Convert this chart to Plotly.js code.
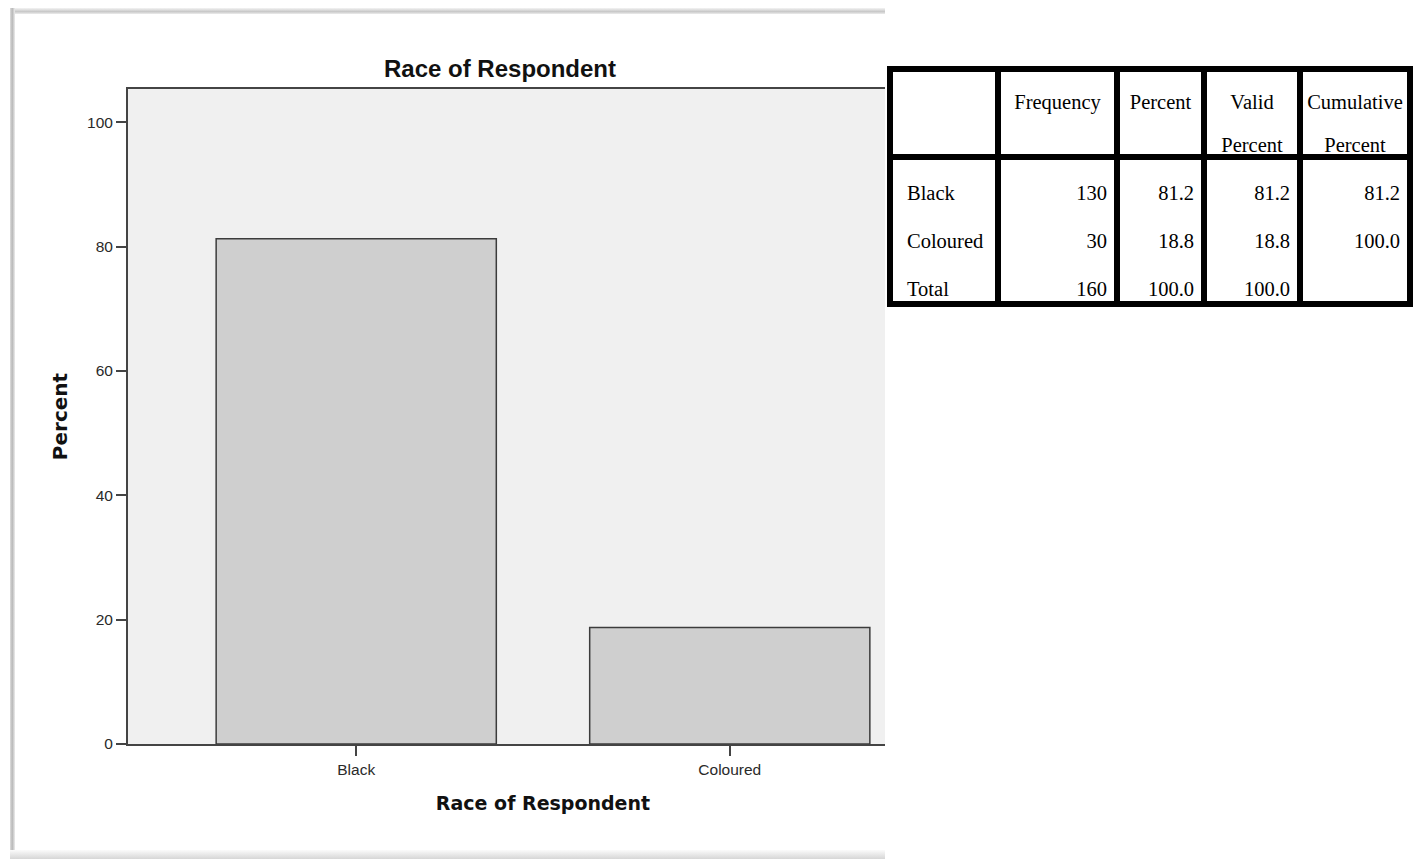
<!DOCTYPE html>
<html>
<head>
<meta charset="utf-8">
<script src="https://cdn.plot.ly/plotly-3.0.1.min.js"></script>
<style>
  html, body { margin:0; padding:0; background:#ffffff; }
  body { width:1413px; height:859px; position:relative; overflow:hidden; }
  #chart { position:absolute; left:0; top:0; width:1413px; height:859px; z-index:1; }
  .frame { position:absolute; z-index:0; }
  #crop { position:absolute; left:885px; top:0; width:528px; height:859px; background:#ffffff; z-index:2; }
  #table { position:absolute; left:0; top:0; z-index:3; font-family:"Liberation Serif","Times New Roman",serif; font-size:20.5px; color:#000; }
  .tl { position:absolute; background:#000; }
  .tt { position:absolute; white-space:nowrap; line-height:24px; height:24px; }
</style>
</head>
<body>
<div class="frame" style="left:10px;top:8px;width:875px;height:6px;background:linear-gradient(to bottom,#f4f4f4,#c8c8c8 60%,#ececec);"></div>
<div class="frame" style="left:10px;top:8px;width:5px;height:851px;background:linear-gradient(to right,#dedede,#b8b8b8 45%,#ececec);"></div>
<div class="frame" style="left:10px;top:850px;width:875px;height:9px;background:linear-gradient(to bottom,#fbfbfb,#d6d6d6);"></div>
<div id="chart"></div>
<div id="crop"></div>
<div id="table"></div>
<script>
// ---- chart data ----
const categories = ['Black', 'Coloured'];
const frequency = [130, 30];
const percent = [81.25, 18.75];
const yTicks = [0, 20, 40, 60, 80, 100];
const chartTitle = 'Race of Respondent';
const xTitle = 'Race of Respondent';
const yTitle = 'Percent';

// ---- table data ----
const tableHeaders = [['', ''], ['Frequency', ''], ['Percent', ''], ['Valid', 'Percent'], ['Cumulative', 'Percent']];
const rowLabels = ['Black', 'Coloured', 'Total'];
const freqCol = ['130', '30', '160'];
const percentCol = ['81.2', '18.8', '100.0'];
const validCol = ['81.2', '18.8', '100.0'];
const cumulativeCol = ['81.2', '100.0', ''];

// ---- chart ----
const trace = {
  type: 'bar',
  x: categories,
  y: percent,
  width: 0.75,
  marker: { color: '#cfcfcf', line: { color: '#3c3c3c', width: 1.5 } },
  hoverinfo: 'none'
};

const layout = {
  width: 1413,
  height: 859,
  margin: { l: 128, r: 455, t: 89, b: 114.5, pad: 0 },
  paper_bgcolor: 'rgba(0,0,0,0)',
  plot_bgcolor: '#f0f0f0',
  showlegend: false,
  bargap: 0.25,
  title: {
    text: chartTitle,
    x: 500 / 1413, xref: 'container', xanchor: 'center',
    y: 1 - 69 / 859, yref: 'container', yanchor: 'middle',
    font: { family: 'Liberation Sans, Arial, sans-serif', size: 24, weight: 'bold', color: '#111' }
  },
  xaxis: {
    type: 'category',
    range: [-0.611, 1.611],
    showline: true, linecolor: '#444', linewidth: 2, mirror: true,
    ticks: 'outside', ticklen: 10, tickwidth: 1.5, tickcolor: '#444',
    tickfont: { family: 'Liberation Sans, Arial, sans-serif', size: 15.5, color: '#2a2a2a' },
    showgrid: false, zeroline: false, fixedrange: true,
    title: {
      text: xTitle, standoff: 20,
      font: { family: 'DejaVu Sans, Verdana, sans-serif', size: 19, weight: 'bold', color: '#111' }
    }
  },
  yaxis: {
    range: [0, 105.35],
    tickvals: yTicks,
    ticktext: yTicks.map(String),
    showline: true, linecolor: '#444', linewidth: 2, mirror: false,
    ticks: 'outside', ticklen: 10, tickwidth: 2, tickcolor: '#444',
    tickfont: { family: 'Liberation Sans, Arial, sans-serif', size: 15.5, color: '#2a2a2a' },
    showgrid: false, zeroline: false, fixedrange: true,
    title: {
      text: yTitle, standoff: 14,
      font: { family: 'DejaVu Sans, Verdana, sans-serif', size: 20, weight: 'bold', color: '#111' }
    }
  }
};

Plotly.newPlot('chart', [trace], layout, { staticPlot: true, displayModeBar: false });

// ---- table (SPSS frequency table, cropped at the right edge) ----
const colLines = [890, 998, 1117, 1204, 1300, 1410];
const rowLines = [68.5, 157, 304];
const lineW = 6;
const tbl = document.getElementById('table');
function line(x, y, w, h) {
  const d = document.createElement('div');
  d.className = 'tl';
  d.style.left = x + 'px'; d.style.top = y + 'px';
  d.style.width = w + 'px'; d.style.height = h + 'px';
  tbl.appendChild(d);
}
const top0 = rowLines[0] - lineW / 2, bot0 = rowLines[rowLines.length - 1] + lineW / 2;
colLines.forEach(x => line(x - lineW / 2, top0, lineW, bot0 - top0));
rowLines.forEach(y => line(colLines[0] - lineW / 2, y - lineW / 2, colLines[colLines.length - 1] - colLines[0] + lineW, lineW));

function text(str, x0, x1, yc, align, pad) {
  const d = document.createElement('div');
  d.className = 'tt';
  d.textContent = str;
  d.style.top = (yc - 12) + 'px';
  d.style.left = x0 + 'px';
  d.style.width = (x1 - x0) + 'px';
  d.style.textAlign = align;
  d.style.boxSizing = 'border-box';
  if (align === 'right') d.style.paddingRight = pad + 'px';
  if (align === 'left') d.style.paddingLeft = pad + 'px';
  tbl.appendChild(d);
}
const headerY = [102, 145];
tableHeaders.forEach((h, c) => {
  const x0 = colLines[c] + lineW / 2, x1 = colLines[c + 1] - lineW / 2;
  h.forEach((s, k) => { if (s) text(s, x0, x1, headerY[k], 'center', 0); });
});
const bodyY = [193, 241, 289];
const bodyCols = [rowLabels, freqCol, percentCol, validCol, cumulativeCol];
bodyCols.forEach((col, c) => {
  const x0 = colLines[c] + lineW / 2, x1 = colLines[c + 1] - lineW / 2;
  col.forEach((s, r) => {
    if (!s) return;
    if (c === 0) text(s, x0, x1, bodyY[r], 'left', 14);
    else text(s, x0, x1, bodyY[r], 'right', 7);
  });
});
</script>
</body>
</html>
